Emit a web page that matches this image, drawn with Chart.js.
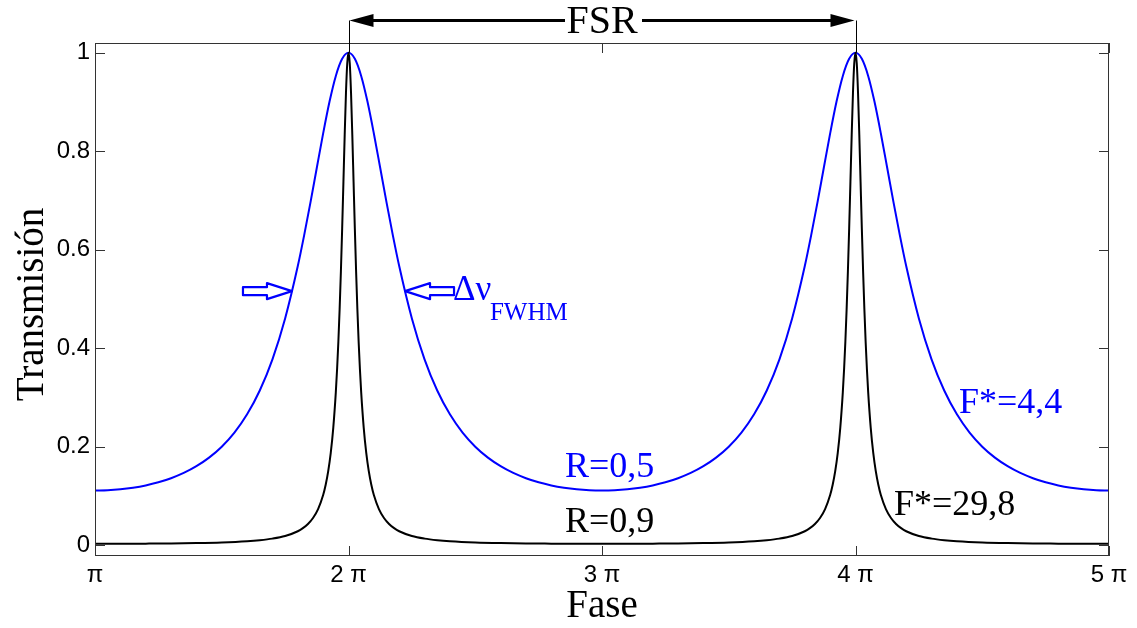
<!DOCTYPE html>
<html>
<head>
<meta charset="utf-8">
<script src="https://cdn.jsdelivr.net/npm/chart.js@4.4.1/dist/chart.umd.min.js"></script>
<style>
  html, body { margin: 0; padding: 0; background: #fff; }
  #wrap { width: 1137px; height: 628px; }
</style>
</head>
<body>
<div id="wrap"><canvas id="chartAiry" width="1137" height="628"></canvas></div>
<script>
// Transmisión de un Fabry-Perot vs fase (en unidades de π)
// Dos curvas: R=0,5 (azul) y R=0,9 (negra)

const xTicks = [1, 2, 3, 4, 5];
const xTickLabels = ['π', '2 π', '3 π', '4 π', '5 π'];
const yTicks = [0, 0.2, 0.4, 0.6, 0.8, 1];
const yTickLabels = ['0', '0.2', '0.4', '0.6', '0.8', '1'];

// R = 0,5
const faseR05 = [
  1, 1.05, 1.1, 1.15, 1.2, 1.25, 1.3, 1.35, 1.4, 1.45, 1.5, 1.55, 1.6, 1.65, 1.7, 1.75, 1.8, 1.825, 1.85, 1.875, 1.9, 1.925, 1.95, 1.975, 2,
  2.025, 2.05, 2.075, 2.1, 2.125, 2.15, 2.175, 2.2, 2.25, 2.3, 2.35, 2.4, 2.45, 2.5, 2.55, 2.6, 2.65, 2.7, 2.75, 2.8, 2.85, 2.9, 2.95, 3,
  3.05, 3.1, 3.15, 3.2, 3.25, 3.3, 3.35, 3.4, 3.45, 3.5, 3.55, 3.6, 3.65, 3.7, 3.75, 3.8, 3.825, 3.85, 3.875, 3.9, 3.925, 3.95, 3.975, 4,
  4.025, 4.05, 4.075, 4.1, 4.125, 4.15, 4.175, 4.2, 4.25, 4.3, 4.35, 4.4, 4.45, 4.5, 4.55, 4.6, 4.65, 4.7, 4.75, 4.8, 4.85, 4.9, 4.95, 5
];
const transR05 = [
  .1111, .1117, .1136, .1168, .1214, .1277, .1360, .1467, .1604, .1778, .2000, .2286, .2657, .3141, .3775, .4605, .5669, .6292, .6964, .7666, .8363, .9005, .9531, .9878, 1,
  .9878, .9531, .9005, .8363, .7666, .6964, .6292, .5669, .4605, .3775, .3141, .2657, .2286, .2000, .1778, .1604, .1467, .1360, .1277, .1214, .1168, .1136, .1117, .1111,
  .1117, .1136, .1168, .1214, .1277, .1360, .1467, .1604, .1778, .2000, .2286, .2657, .3141, .3775, .4605, .5669, .6292, .6964, .7666, .8363, .9005, .9531, .9878, 1,
  .9878, .9531, .9005, .8363, .7666, .6964, .6292, .5669, .4605, .3775, .3141, .2657, .2286, .2000, .1778, .1604, .1467, .1360, .1277, .1214, .1168, .1136, .1117, .1111
];

// R = 0,9
const faseR09 = [
  1, 1.1, 1.2, 1.3, 1.4, 1.5, 1.6, 1.65, 1.7, 1.75, 1.8, 1.82, 1.84, 1.86, 1.88, 1.9, 1.91, 1.92, 1.93, 1.94, 1.95, 1.955, 1.96, 1.965, 1.97, 1.975, 1.98, 1.985, 1.99, 1.995, 2,
  2.005, 2.01, 2.015, 2.02, 2.025, 2.03, 2.035, 2.04, 2.045, 2.05, 2.06, 2.07, 2.08, 2.09, 2.1, 2.12, 2.14, 2.16, 2.18, 2.2, 2.25, 2.3, 2.35, 2.4, 2.5, 2.6, 2.7, 2.8, 2.9, 3,
  3.1, 3.2, 3.3, 3.4, 3.5, 3.6, 3.65, 3.7, 3.75, 3.8, 3.82, 3.84, 3.86, 3.88, 3.9, 3.91, 3.92, 3.93, 3.94, 3.95, 3.955, 3.96, 3.965, 3.97, 3.975, 3.98, 3.985, 3.99, 3.995, 4,
  4.005, 4.01, 4.015, 4.02, 4.025, 4.03, 4.035, 4.04, 4.045, 4.05, 4.06, 4.07, 4.08, 4.09, 4.1, 4.12, 4.14, 4.16, 4.18, 4.2, 4.25, 4.3, 4.35, 4.4, 4.5, 4.6, 4.7, 4.8, 4.9, 5
];
const transR09 = [
  .0028, .0028, .0031, .0035, .0042, .0055, .0080, .0101, .0133, .0186, .0283, .0345, .0430, .0552, .0733, .1019, .1227, .1503, .1874, .2388, .3109, .3577, .4133, .4791, .5557, .6430, .7379, .8334, .9184, .9783, 1,
  .9783, .9184, .8334, .7379, .6430, .5557, .4791, .4133, .3577, .3109, .2388, .1874, .1503, .1227, .1019, .0733, .0552, .0430, .0345, .0283, .0186, .0133, .0101, .0080, .0055, .0042, .0035, .0031, .0028, .0028,
  .0028, .0031, .0035, .0042, .0055, .0080, .0101, .0133, .0186, .0283, .0345, .0430, .0552, .0733, .1019, .1227, .1503, .1874, .2388, .3109, .3577, .4133, .4791, .5557, .6430, .7379, .8334, .9184, .9783, 1,
  .9783, .9184, .8334, .7379, .6430, .5557, .4791, .4133, .3577, .3109, .2388, .1874, .1503, .1227, .1019, .0733, .0552, .0430, .0345, .0283, .0186, .0133, .0101, .0080, .0055, .0042, .0035, .0031, .0028, .0028
];

const toPts = (xs, ys) => xs.map((x, i) => ({ x: x, y: ys[i] }));

const SERIF = '"Liberation Serif", "Times New Roman", serif';
const SANS = '"Liberation Sans", Arial, sans-serif';

// Marco, ticks interiores estilo MATLAB y anotaciones
const anotaciones = {
  id: 'anotaciones',
  afterDatasetsDraw(chart) {
    const { ctx, chartArea: a, scales: { x, y } } = chart;
    ctx.save();

    // marco
    ctx.strokeStyle = '#333';
    ctx.lineWidth = 1;
    ctx.strokeRect(a.left + 0.5, a.top + 0.5, a.right - a.left - 1, a.bottom - a.top - 1);
    ctx.beginPath();
    yTicks.forEach(v => {
      const py = Math.round(y.getPixelForValue(v)) + 0.5;
      ctx.moveTo(a.left, py); ctx.lineTo(a.left + 10, py);
      ctx.moveTo(a.right, py); ctx.lineTo(a.right - 10, py);
    });
    xTicks.forEach(v => {
      const px = Math.round(x.getPixelForValue(v)) + 0.5;
      ctx.moveTo(px, a.bottom); ctx.lineTo(px, a.bottom - 10);
      ctx.moveTo(px, a.top); ctx.lineTo(px, a.top + 10);
    });
    ctx.stroke();

    // FSR
    const x2 = x.getPixelForValue(2), x4 = x.getPixelForValue(4), x3 = x.getPixelForValue(3);
    const yA = 20.5, yPk = y.getPixelForValue(1);
    ctx.strokeStyle = '#000';
    ctx.lineWidth = 1;
    ctx.beginPath();
    ctx.moveTo(Math.round(x2) + 0.5, yA); ctx.lineTo(Math.round(x2) + 0.5, yPk);
    ctx.moveTo(Math.round(x4) + 0.5, yA); ctx.lineTo(Math.round(x4) + 0.5, yPk);
    ctx.stroke();
    ctx.lineWidth = 3;
    ctx.beginPath();
    ctx.moveTo(x2 + 20, yA); ctx.lineTo(x3 - 37, yA);
    ctx.moveTo(x3 + 40, yA); ctx.lineTo(x4 - 20, yA);
    ctx.stroke();
    ctx.fillStyle = '#000';
    ctx.beginPath();
    ctx.moveTo(x2 + 1, yA); ctx.lineTo(x2 + 25, yA - 6.5); ctx.lineTo(x2 + 25, yA + 6.5); ctx.closePath();
    ctx.moveTo(x4 - 1, yA); ctx.lineTo(x4 - 25, yA - 6.5); ctx.lineTo(x4 - 25, yA + 6.5); ctx.closePath();
    ctx.fill();
    ctx.font = '40px ' + SERIF;
    ctx.textAlign = 'center';
    ctx.textBaseline = 'alphabetic';
    ctx.fillText('FSR', x3, 33);

    // flechas huecas del ancho a media altura
    const yH = y.getPixelForValue(0.516);
    const flecha = (tip, dir) => {
      // dir = +1 apunta a la derecha, -1 a la izquierda
      const hx = tip - dir * 25, sx = tip - dir * 49;
      ctx.beginPath();
      ctx.moveTo(tip, yH);
      ctx.lineTo(hx, yH - 8);
      ctx.lineTo(hx, yH - 4);
      ctx.lineTo(sx, yH - 4);
      ctx.lineTo(sx, yH + 4);
      ctx.lineTo(hx, yH + 4);
      ctx.lineTo(hx, yH + 8);
      ctx.closePath();
      ctx.stroke();
    };
    ctx.strokeStyle = '#0000ff';
    ctx.lineWidth = 2.2;
    ctx.lineJoin = 'round';
    flecha(x.getPixelForValue(1.777), 1);
    flecha(x.getPixelForValue(2.223), -1);

    // textos
    ctx.textAlign = 'left';
    ctx.fillStyle = '#0000ff';
    ctx.font = '35px ' + SERIF;
    ctx.fillText('Δν', x.getPixelForValue(2.412), y.getPixelForValue(0.498));
    ctx.font = '25px ' + SERIF;
    ctx.fillText('FWHM', x.getPixelForValue(2.558), y.getPixelForValue(0.457));
    ctx.font = '36px ' + SERIF;
    ctx.fillText('R=0,5', x.getPixelForValue(2.854), y.getPixelForValue(0.138));
    ctx.fillText('F*=4,4', x.getPixelForValue(4.408), y.getPixelForValue(0.268));
    ctx.fillStyle = '#000';
    ctx.fillText('R=0,9', x.getPixelForValue(2.854), y.getPixelForValue(0.026));
    ctx.fillText('F*=29,8', x.getPixelForValue(4.152), y.getPixelForValue(0.061));

    // títulos de ejes
    ctx.font = '39px ' + SERIF;
    ctx.textAlign = 'center';
    ctx.fillText('Fase', x3, 617);
    ctx.translate(43, (a.top + a.bottom) / 2 + 5);
    ctx.rotate(-Math.PI / 2);
    ctx.textBaseline = 'alphabetic';
    ctx.fillText('Transmisión', 0, 0);

    ctx.restore();
  }
};

window.addEventListener('load', () => {
  new Chart(document.getElementById('chartAiry'), {
    type: 'line',
    data: {
      datasets: [
        { label: 'R=0,9', data: toPts(faseR09, transR09), borderColor: '#000000', borderWidth: 2, pointRadius: 0, cubicInterpolationMode: 'monotone', fill: false },
        { label: 'R=0,5', data: toPts(faseR05, transR05), borderColor: '#0000ff', borderWidth: 2, pointRadius: 0, cubicInterpolationMode: 'monotone', fill: false }
      ]
    },
    options: {
      responsive: false,
      animation: false,
      events: [],
      layout: { padding: { top: 43, right: 28, bottom: 0, left: 0 } },
      plugins: { legend: { display: false }, tooltip: { enabled: false } },
      scales: {
        x: {
          type: 'linear', min: 1, max: 5,
          afterBuildTicks: s => { s.ticks = xTicks.map(v => ({ value: v })); },
          afterFit: s => { s.height = 72; },
          grid: { display: false, drawTicks: false },
          border: { display: false },
          ticks: { padding: 5, color: '#000', font: { family: SANS, size: 24 }, maxRotation: 0,
                   callback: (v) => xTickLabels[xTicks.indexOf(v)] }
        },
        y: {
          type: 'linear', min: -0.022, max: 1.02,
          afterBuildTicks: s => { s.ticks = yTicks.map(v => ({ value: v })); },
          afterFit: s => { s.width = 95; },
          grid: { display: false, drawTicks: false },
          border: { display: false },
          ticks: { padding: 5, color: '#000', font: { family: SANS, size: 24 },
                   callback: (v) => yTickLabels[yTicks.indexOf(v)] }
        }
      }
    },
    plugins: [anotaciones]
  });
});
</script>
</body>
</html>
